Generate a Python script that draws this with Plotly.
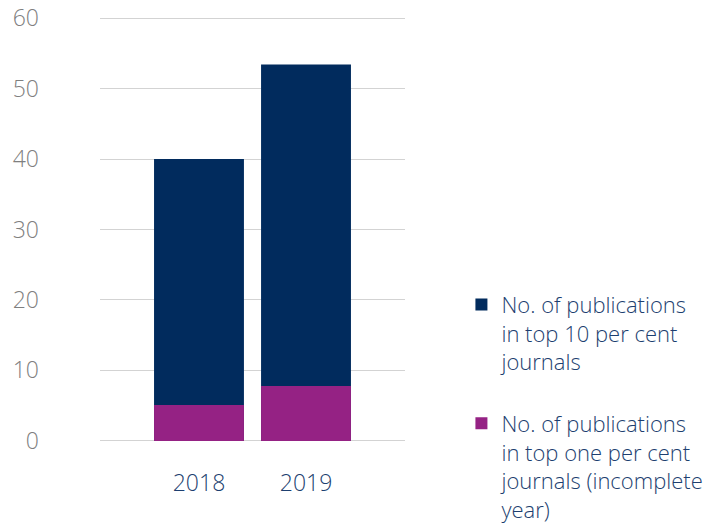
import plotly.graph_objects as go

years = ["2018", "2019"]
top10 = [40, 53.4]
top1 = [5.1, 7.8]
y_ticks = [0, 10, 20, 30, 40, 50, 60]

navy = "#012b5d"
purple = "#952284"
text_navy = "#1d3f70"
FONT = "Open Sans"

fig = go.Figure()
fig.add_trace(go.Bar(
    x=years, y=top10, name="No. of publications<br>in top 10 per cent<br>journals",
    marker=dict(color=navy, line=dict(width=0)), width=0.84, legendgroup="a"))
fig.add_trace(go.Bar(
    x=years, y=top1, name="No. of publications<br>in top one per cent<br>journals (incomplete<br>year)",
    marker=dict(color=purple, line=dict(width=0)), width=0.84, legendgroup="b"))

fig.update_layout(
    barmode="overlay",
    width=724, height=524,
    margin=dict(l=100, r=319, t=16, b=81, autoexpand=False),
    paper_bgcolor="white", plot_bgcolor="white",
    font=dict(family=FONT, color=text_navy, weight=300),
    showlegend=True,
    legend=dict(
        x=1.185, y=0.373, xanchor="left", yanchor="top",
        font=dict(size=22, color=text_navy, family=FONT, weight=300),
        traceorder="grouped", tracegroupgap=30, valign="top",
        bgcolor="rgba(0,0,0,0)",
    ),
    xaxis=dict(
        type="category", range=[-0.925, 1.925], automargin=False,
        showgrid=False, showline=False, zeroline=False, ticks="",
        tickfont=dict(size=23, color=text_navy, family=FONT, weight=300),
        ticklabelstandoff=24,
    ),
    yaxis=dict(
        range=[-0.3, 60.3], tickvals=y_ticks, automargin=False,
        showgrid=True, gridcolor="#d3d3d3", gridwidth=1,
        zeroline=False, showline=False, ticks="",
        tickfont=dict(size=23, color="#7f7f7f", family=FONT, weight=300),
        ticklabelstandoff=60,
    ),
)

fig.write_html("out.html")
